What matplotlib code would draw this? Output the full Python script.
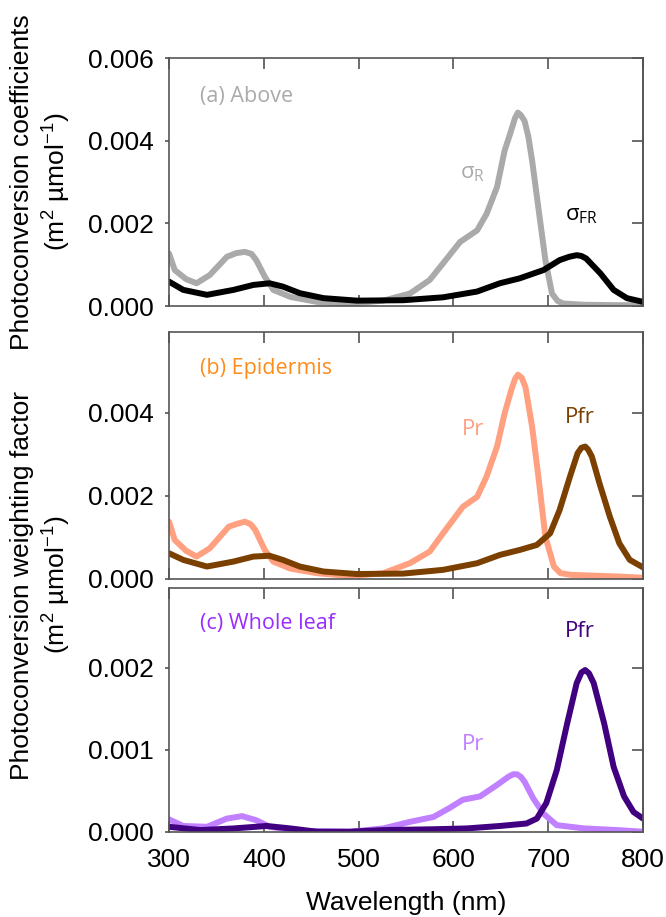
import matplotlib.pyplot as plt

# (a) photoconversion coefficients above the leaf
wl_a_r = [300, 306, 318, 329, 343, 361, 371, 380, 387, 392, 401, 410, 428, 456, 491, 526, 554,
          575, 589, 607, 625, 635, 646, 654, 660, 665, 668, 671, 675, 679, 683, 690, 697, 704,
          710, 716, 738, 770, 800]
sigma_r = [0.00127, 0.00087, 0.00065, 0.00055, 0.00075, 0.00119, 0.00128, 0.00131, 0.00126,
           0.00111, 0.00071, 0.00039, 0.00022, 0.00010, 0.00006, 0.00013, 0.00030, 0.00063,
           0.00103, 0.00155, 0.00183, 0.00223, 0.00288, 0.00376, 0.00418, 0.00455, 0.00468,
           0.00462, 0.00448, 0.00410, 0.00352, 0.00231, 0.00111, 0.00030, 0.00012, 0.00006,
           0.00003, 0.00002, 0.00002]
wl_a_fr = [300, 315, 340, 368, 389, 406, 420, 438, 463, 498, 547, 589, 625, 649, 670, 695,
           712, 722, 730, 735, 740, 755, 769, 783, 800]
sigma_fr = [0.00059, 0.00039, 0.00027, 0.00039, 0.00051, 0.00055, 0.00047, 0.00031, 0.00019,
            0.00013, 0.00014, 0.00021, 0.00035, 0.00055, 0.00067, 0.00087, 0.00111, 0.00119,
            0.00123, 0.00121, 0.00115, 0.00079, 0.00039, 0.00019, 0.00010]

# (b) epidermis weighting factors
wl_b_pr = [300, 306, 318, 329, 343, 363, 372, 380, 386, 391, 401, 410, 428, 456, 491, 526,
           554, 575, 589, 610, 625, 635, 646, 654, 661, 665, 668, 672, 676, 683, 690, 697, 706,
           713, 724, 773, 800]
pr_b = [0.00138, 0.00094, 0.00068, 0.00054, 0.00074, 0.00126, 0.00133, 0.00138, 0.00132,
        0.00118, 0.00070, 0.00042, 0.00025, 0.00014, 0.00007, 0.00014, 0.00038, 0.00066,
        0.00110, 0.00174, 0.00198, 0.00247, 0.00319, 0.00399, 0.00455, 0.00482, 0.00492,
        0.00485, 0.00462, 0.00367, 0.00239, 0.00102, 0.00030, 0.00014, 0.00010, 0.00006,
        0.00003]
wl_b_pfr = [300, 315, 340, 368, 389, 406, 420, 438, 463, 498, 547, 589, 625, 649, 670, 688,
            702, 712, 723, 731, 735, 739, 742, 746, 754, 765, 775, 786, 800]
pfr_b = [0.00062, 0.00046, 0.00030, 0.00042, 0.00054, 0.00056, 0.00046, 0.00030, 0.00018,
         0.00012, 0.00013, 0.00022, 0.00038, 0.00058, 0.00070, 0.00082, 0.00110, 0.00166,
         0.00247, 0.00303, 0.00316, 0.00319, 0.00312, 0.00295, 0.00231, 0.00150, 0.00086,
         0.00046, 0.00028]

# (c) whole leaf weighting factors
wl_c_pr = [300, 315, 340, 361, 377, 392, 406, 438, 491, 526, 554, 579, 596, 610, 628, 646,
           658, 663, 667, 671, 675, 684, 695, 709, 738, 773, 800]
pr_c = [0.00015, 0.00007, 0.00006, 0.00016, 0.00019, 0.00014, 0.00006, 0.00001, 0.00000,
        0.00004, 0.00012, 0.00018, 0.00029, 0.00039, 0.00043, 0.00057, 0.00067, 0.00070,
        0.00070, 0.00067, 0.00061, 0.00041, 0.00022, 0.00008, 0.00004, 0.00002, 0.00000]
wl_c_pfr = [300, 333, 368, 403, 428, 456, 491, 526, 579, 614, 649, 677, 688, 698, 709, 720,
            730, 735, 739, 743, 748, 759, 769, 780, 790, 800]
pfr_c = [0.00006, 0.00002, 0.00004, 0.00007, 0.00004, 0.00000, 0.00000, 0.00002, 0.00003,
         0.00004, 0.00007, 0.00010, 0.00016, 0.00035, 0.00075, 0.00132, 0.00181, 0.00194,
         0.00197, 0.00193, 0.00181, 0.00132, 0.00079, 0.00043, 0.00024, 0.00016]

xticks = [300, 400, 500, 600, 700, 800]

tick_font = 'Liberation Sans'
note_font = 'Open Sans'
plt.rcParams['font.family'] = tick_font

fig = plt.figure(figsize=(6.66, 9.17), dpi=100)

left, width = 0.2538, 0.7117
ax_a = fig.add_axes([left, 0.6663, width, 0.2704])
ax_b = fig.add_axes([left, 0.3686, width, 0.2694])
ax_c = fig.add_axes([left, 0.0930, width, 0.2658])


def style(ax, ymax, yticks, show_x):
    ax.set_xlim(300, 800)
    ax.set_ylim(0, ymax)
    ax.set_xticks(xticks)
    ax.set_yticks(yticks)
    ax.set_yticklabels(['%.3f' % t for t in yticks])
    ax.tick_params(axis='x', direction='in', top=True, length=8, width=1.1,
                   color='#444444', labelsize=19, pad=12, labelbottom=show_x)
    ax.tick_params(axis='y', direction='out', length=3, width=1.1,
                   color='#444444', labelsize=19, pad=8)
    for s in ax.spines.values():
        s.set_color('#555555')
        s.set_linewidth(1.2)
    sec = ax.secondary_yaxis('right')
    sec.set_yticks(yticks)
    sec.tick_params(direction='in', length=8, width=1.1, color='#444444', labelright=False)
    sec.spines['right'].set_color('#555555')
    sec.spines['right'].set_linewidth(1.2)


lw = 4.3
note_size = 15.5
curve_size = 16

ax_a.plot(wl_a_r, sigma_r, color='#aaaaaa', lw=lw, solid_capstyle='round', solid_joinstyle='round')
ax_a.plot(wl_a_fr, sigma_fr, color='black', lw=lw, solid_capstyle='round', solid_joinstyle='round')
style(ax_a, 0.006, [0, 0.002, 0.004, 0.006], False)
ax_a.text(333, 0.00508, '(a) Above', color='#aaaaaa', family=note_font, fontsize=note_size, va='center')
ax_a.text(607, 0.0032, r'σ$_\mathregular{R}$', color='#aaaaaa', family=note_font, fontsize=curve_size, va='center')
ax_a.text(718, 0.00219, r'σ$_\mathregular{FR}$', color='black', family=note_font, fontsize=curve_size, va='center')

ax_b.plot(wl_b_pr, pr_b, color='#ffa080', lw=lw, solid_capstyle='round', solid_joinstyle='round')
ax_b.plot(wl_b_pfr, pfr_b, color='#7b3f00', lw=lw, solid_capstyle='round', solid_joinstyle='round')
style(ax_b, 0.00595, [0, 0.002, 0.004], False)
ax_b.text(333, 0.00508, '(b) Epidermis', color='#ff8c1a', family=note_font, fontsize=note_size, va='center')
ax_b.text(609, 0.00359, 'Pr', color='#ffa080', family=note_font, fontsize=curve_size, va='center')
ax_b.text(718, 0.0039, 'Pfr', color='#7b3f00', family=note_font, fontsize=curve_size, va='center')

ax_c.plot(wl_c_pr, pr_c, color='#c080ff', lw=lw, solid_capstyle='round', solid_joinstyle='round')
ax_c.plot(wl_c_pfr, pfr_c, color='#400080', lw=lw, solid_capstyle='round', solid_joinstyle='round')
style(ax_c, 0.00297, [0, 0.001, 0.002], True)
ax_c.text(333, 0.00254, '(c) Whole leaf', color='#9a2cff', family=note_font, fontsize=note_size, va='center')
ax_c.text(609, 0.00106, 'Pr', color='#c080ff', family=note_font, fontsize=curve_size, va='center')
ax_c.text(718, 0.00244, 'Pfr', color='#400080', family=note_font, fontsize=curve_size, va='center')

unit = r'(m$^\mathregular{2}$ µmol$^\mathregular{-1}$)'
fig.text(0.062, 0.8015, 'Photoconversion coefficients\n' + unit, rotation=90,
         ha='center', va='center', fontsize=19, multialignment='center')
fig.text(0.062, 0.362, 'Photoconversion weighting factor\n' + unit, rotation=90,
         ha='center', va='center', fontsize=19, multialignment='center')
fig.text(left + width / 2, 0.0153, 'Wavelength (nm)', ha='center', va='center', fontsize=19)

fig.savefig('out.png', dpi=100)
